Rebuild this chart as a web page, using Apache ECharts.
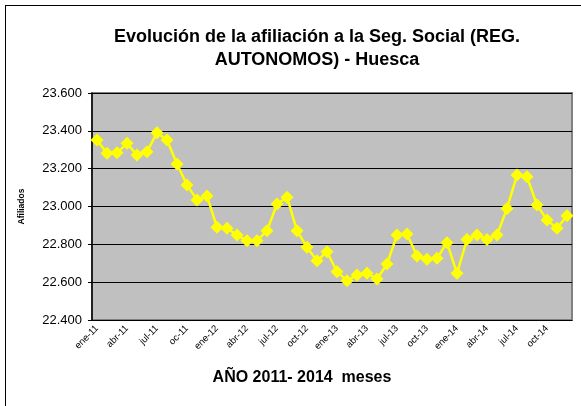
<!DOCTYPE html>
<html>
<head>
<meta charset="utf-8">
<script src="https://cdn.jsdelivr.net/npm/echarts@6/dist/echarts.min.js"></script>
<style>
  html, body { margin: 0; padding: 0; background: #fff; overflow: hidden; }
  #frame { position: absolute; left: 5px; top: 5px; width: 600px; height: 420px;
           border-left: 1px solid #000; border-top: 1px solid #000; }
  #main { position: absolute; left: 0; top: 0; width: 581px; height: 406px; }
</style>
</head>
<body>
<div id="frame"></div>
<div id="main"></div>
<script>
// meses ene-11 .. dic-14
const meses = ["ene", "feb", "mar", "abr", "may", "jun", "jul", "ago", "sep", "oct", "nov", "dic"];
const anios = ["11", "12", "13", "14"];
const categorias = [];
anios.forEach(function (a) {
  meses.forEach(function (m) {
    // la etiqueta de octubre 2011 aparece como "oc-11" en el original
    categorias.push((m === "oct" && a === "11" ? "oc" : m) + "-" + a);
  });
});

const afiliados = [
  23352, 23281, 23284, 23334, 23272, 23290, 23390, 23352, 23225, 23114, 23034, 23055,
  22890, 22885, 22849, 22819, 22819, 22872, 23013, 23049, 22872, 22784, 22713, 22761,
  22655, 22608, 22638, 22647, 22617, 22696, 22849, 22855, 22738, 22721, 22726, 22809,
  22647, 22826, 22849, 22826, 22849, 22990, 23166, 23157, 23008, 22929, 22885, 22951
];

const titulo = ["Evolución de la afiliación a la Seg. Social (REG.", "AUTONOMOS) - Huesca"];

const fuente = "Liberation Sans, Arial";
const chart = echarts.init(document.getElementById("main"));

chart.setOption({
  animation: false,
  graphic: [
    {
      type: "text", x: 317, y: 37,
      style: { text: titulo[0], font: "bold 18px " + fuente, fill: "#000",
               textAlign: "center", textVerticalAlign: "middle" }
    },
    {
      type: "text", x: 317, y: 60,
      style: { text: titulo[1], font: "bold 18px " + fuente, fill: "#000",
               textAlign: "center", textVerticalAlign: "middle" }
    },
    {
      type: "text", x: 302, y: 378,
      style: { text: "AÑO 2011- 2014  meses", font: "bold 16px " + fuente, fill: "#000",
               textAlign: "center", textVerticalAlign: "middle" }
    }
  ],
  grid: {
    left: 92,
    top: 93,
    width: 480,
    height: 227,
    show: true,
    backgroundColor: "#c0c0c0",
    borderColor: "#808080",
    borderWidth: 2
  },
  xAxis: {
    type: "category",
    data: categorias,
    boundaryGap: true,
    axisLine: { lineStyle: { color: "#000", width: 1 } },
    axisTick: { interval: 0, length: 3, lineStyle: { color: "#000" } },
    axisLabel: {
      interval: 2,
      rotate: 45,
      fontSize: 9.5,
      fontFamily: fuente,
      color: "#000",
      margin: 7
    }
  },
  yAxis: {
    type: "value",
    min: 22400,
    max: 23600,
    interval: 200,
    name: "Afiliados",
    nameLocation: "middle",
    nameGap: 66,
    nameTextStyle: {
      fontFamily: fuente,
      fontSize: 8.5,
      fontWeight: "bold",
      color: "#000"
    },
    axisLine: { show: true, lineStyle: { color: "#000", width: 1.5 } },
    axisTick: { show: true, length: 4, lineStyle: { color: "#000" } },
    axisLabel: {
      fontSize: 13,
      fontFamily: fuente,
      color: "#000",
      margin: 10,
      formatter: function (v) {
        return String(v).replace(/\B(?=(\d{3})+(?!\d))/g, ".");
      }
    },
    splitLine: { lineStyle: { color: "#000", width: 1 } }
  },
  series: [
    {
      type: "line",
      data: afiliados,
      symbol: "diamond",
      symbolSize: 13,
      showAllSymbol: true,
      itemStyle: { color: "#ffff00" },
      lineStyle: { color: "#ffff00", width: 2.5 }
    }
  ]
});
</script>
</body>
</html>
